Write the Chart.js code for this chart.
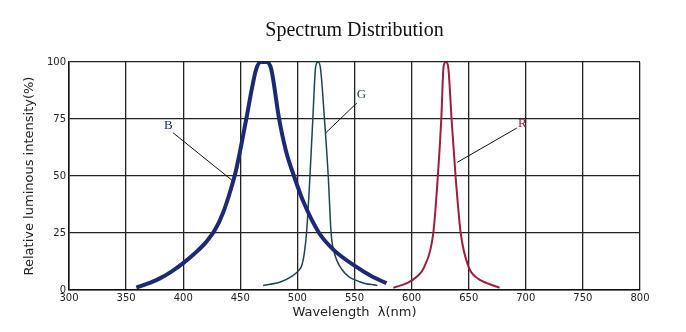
<!DOCTYPE html>
<html>
<head>
<meta charset="utf-8">
<script src="https://cdn.jsdelivr.net/npm/chart.js@4"></script>
<style>
  html, body { margin: 0; padding: 0; background: #fff; }
  #wrap { width: 686px; height: 332px; }
</style>
</head>
<body>
<div id="wrap"><canvas id="spectrumChart"></canvas></div>
<script>
// --- 読み取った値 (波長 nm / 相対強度 %) ---
const xTicks = [300, 350, 400, 450, 500, 550, 600, 650, 700, 750, 800];
const yTicks = [0, 25, 50, 75, 100];

const blueNm = [359, 370, 380, 390, 400, 410, 420, 428, 435, 441, 446, 451, 456, 460, 464, 468, 473, 477, 484, 490, 497, 505, 519, 532, 552, 565, 578];
const blueVal = [1, 3, 5.2, 8.2, 11.8, 16, 21, 26.5, 34, 43, 52, 64, 77, 88, 97, 100, 100, 97, 75, 61, 50, 39, 25, 17.5, 10, 6, 3];

const greenNm = [470, 485, 495, 501, 504, 506, 508, 511, 513.5, 516, 518, 520, 523.7, 527, 529.5, 532, 539, 555, 570];
const greenVal = [2, 3.5, 6, 8.5, 11, 16, 25, 50, 75, 98, 100, 98, 75, 50, 25, 17, 9, 3.5, 2];

const redNm = [584, 596, 605, 611, 619, 623, 626, 628, 630, 632, 635, 638.5, 643, 650, 658, 666, 677];
const redVal = [1, 3, 6, 10, 25, 50, 75, 98, 100, 98, 75, 50, 25, 10, 5, 3, 1];

// ラベル (B, G, R) と引き出し線
const labelNames = ['B', 'G', 'R'];
const labelNm = [387, 556, 697];
const labelVal = [72, 85.5, 73];
const leaderNm = [[391, 443], [552, 525], [692, 640]];
const leaderVal = [[69, 48], [82, 69], [71, 56]];

const colors = ['#1c2a72', '#1d4450', '#a01c3c'];

function toPoints(xs, ys) {
    return xs.map((x, i) => ({ x: x, y: ys[i] }));
}

const curveDatasets = [
    { data: toPoints(blueNm, blueVal), borderColor: colors[0], borderWidth: 4 },
    { data: toPoints(greenNm, greenVal), borderColor: colors[1], borderWidth: 1.5 },
    { data: toPoints(redNm, redVal), borderColor: colors[2], borderWidth: 2 }
].map(d => Object.assign(d, { pointRadius: 0, cubicInterpolationMode: 'monotone', fill: false }));

const leaderDatasets = leaderNm.map((xs, i) => ({
    data: toPoints(xs, leaderVal[i]),
    borderColor: '#111',
    borderWidth: 1,
    pointRadius: 0,
    fill: false
}));

// ラベル描画プラグイン
const curveLabels = {
    id: 'curveLabels',
    afterDatasetsDraw(chart) {
        const { ctx, scales } = chart;
        ctx.save();
        ctx.font = '13px "Liberation Serif", "DejaVu Serif", serif';
        ctx.textAlign = 'center';
        ctx.textBaseline = 'middle';
        labelNames.forEach((name, i) => {
            ctx.fillStyle = colors[i];
            ctx.fillText(name, scales.x.getPixelForValue(labelNm[i]), scales.y.getPixelForValue(labelVal[i]));
        });
        ctx.restore();
    }
};

const tickFont = { family: '"DejaVu Sans", sans-serif', size: 10 };
const gridStyle = { color: '#222', lineWidth: 1.3, drawTicks: false };

new Chart(document.getElementById('spectrumChart'), {
    type: 'line',
    data: { datasets: curveDatasets.concat(leaderDatasets) },
    options: {
        responsive: true,
        maintainAspectRatio: false,
        animation: false,
        layout: { padding: { left: 0, right: 46, top: 0, bottom: 0 } },
        plugins: {
            legend: { display: false },
            tooltip: { enabled: false },
            title: {
                display: true,
                text: 'Spectrum Distribution',
                fullSize: false,
                color: '#111',
                font: { family: '"Liberation Serif", "DejaVu Serif", serif', size: 20, weight: 'normal' },
                padding: { top: 19, bottom: 19 }
            }
        },
        scales: {
            x: {
                type: 'linear',
                min: 300,
                max: 800,
                afterBuildTicks: s => { s.ticks = xTicks.map(v => ({ value: v })); },
                afterFit: s => { s.height = 42; },
                grid: gridStyle,
                border: { color: '#111', width: 1.5 },
                ticks: { color: '#222', font: tickFont, padding: 2, maxRotation: 0, autoSkip: false },
                title: {
                    display: true,
                    text: 'Wavelength  λ(nm)',
                    color: '#222',
                    font: { family: '"DejaVu Sans", sans-serif', size: 13 },
                    padding: { top: 4, bottom: 12 }
                }
            },
            y: {
                min: 0,
                max: 100,
                afterBuildTicks: s => { s.ticks = yTicks.map(v => ({ value: v })); },
                afterFit: s => { s.width = 69; },
                grid: gridStyle,
                border: { color: '#111', width: 1.5 },
                ticks: { color: '#222', font: tickFont, padding: 3 },
                title: {
                    display: true,
                    text: 'Relative luminous intensity(%)',
                    color: '#222',
                    font: { family: '"DejaVu Sans", sans-serif', size: 13 },
                    padding: { top: 22, bottom: 0 }
                }
            }
        }
    },
    plugins: [curveLabels]
});
</script>
</body>
</html>
